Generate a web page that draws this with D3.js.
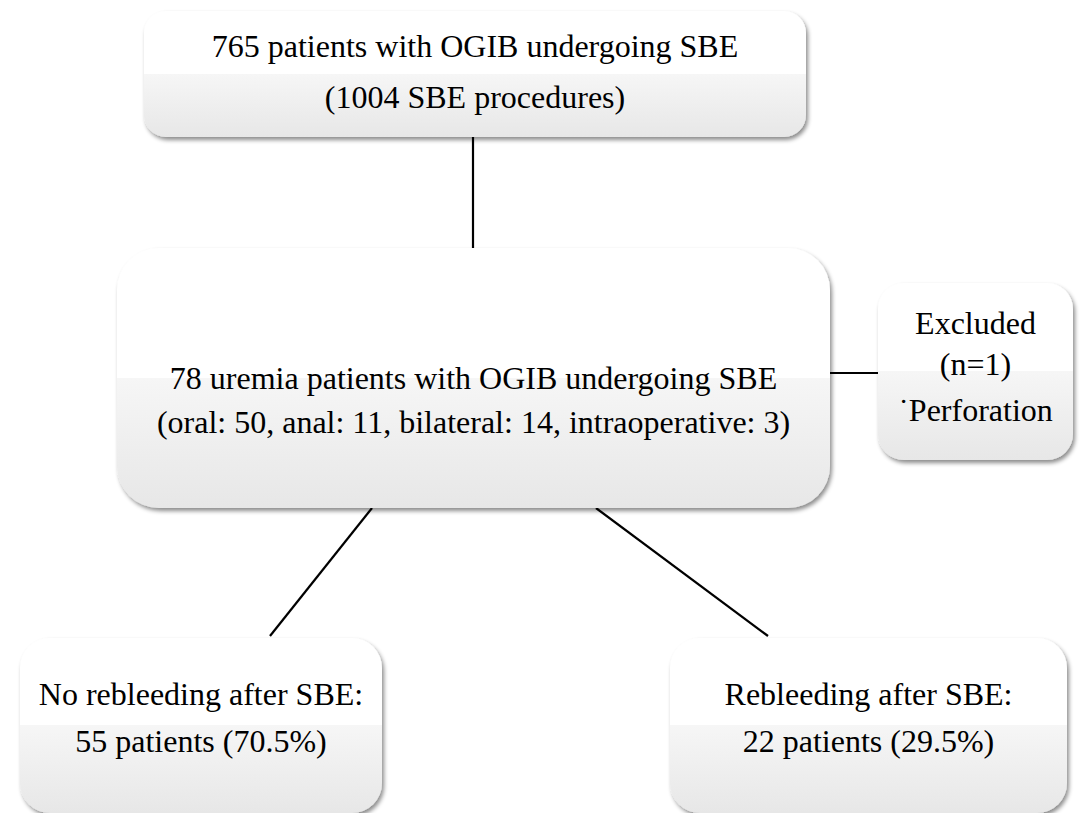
<!DOCTYPE html>
<html><head><meta charset="utf-8">
<script src="https://cdn.jsdelivr.net/npm/d3@7"></script>
<style>html,body{margin:0;padding:0;background:#fff;}svg{display:block;}</style>
</head><body>
<svg id="c" width="1084" height="813"></svg>
<script>
// Node labels (text content)
const nodeIds = ["all", "uremia", "excluded", "noRebleed", "rebleed"];
const nodeLines = [
  ["765 patients with OGIB undergoing SBE", "(1004 SBE procedures)"],
  ["78 uremia patients with OGIB undergoing SBE", "(oral: 50, anal: 11, bilateral: 14, intraoperative: 3)"],
  ["Excluded", "(n=1)", "˙Perforation"],
  ["No rebleeding after SBE:", "55 patients (70.5%)"],
  ["Rebleeding after SBE:", "22 patients (29.5%)"]
];
const links = [["all","uremia"],["uremia","excluded"],["uremia","noRebleed"],["uremia","rebleed"]];

// Layout (pixels)
const layout = {
  all:       {x0:144, y0:11,  x1:806, y1:137, r:22, base:[57,108]},
  uremia:    {x0:117, y0:248, x1:830, y1:508, r:42, base:[389,433]},
  excluded:  {x0:878, y0:283, x1:1073,y1:460, r:26, base:[334,375,421]},
  noRebleed: {x0:20,  y0:638, x1:382, y1:813, r:30, base:[705,752]},
  rebleed:   {x0:670, y0:638, x1:1067,y1:813, r:30, base:[705,752]}
};
const linkPts = [
  [[473,137],[473,248]],
  [[830,373],[878,373]],
  [[372,508],[270,636]],
  [[596,508],[768,636]]
];

const svg = d3.select("#c");
const defs = svg.append("defs");
const g = defs.append("linearGradient").attr("id","gloss").attr("x1",0).attr("y1",0).attr("x2",0).attr("y2",1);
[[0,"#ffffff"],[0.5,"#ffffff"],[0.5,"#f6f6f6"],[1,"#e7e7e7"]].forEach(([o,c])=>g.append("stop").attr("offset",o).attr("stop-color",c));
const f = defs.append("filter").attr("id","sh").attr("x","-10%").attr("y","-10%").attr("width","120%").attr("height","130%");
f.append("feDropShadow").attr("dx",2).attr("dy",3).attr("stdDeviation",2.2).attr("flood-color","#000").attr("flood-opacity",0.45);

const line = d3.line();
svg.selectAll("path.link").data(linkPts).join("path").attr("class","link")
  .attr("d", d=>line(d)).attr("stroke","#000").attr("stroke-width",2.2).attr("fill","none");

const nodes = nodeIds.map((id,i)=>({id, lines:nodeLines[i], ...layout[id]}));
const ng = svg.selectAll("g.node").data(nodes).join("g").attr("class","node");
ng.append("rect")
  .attr("x",d=>d.x0).attr("y",d=>d.y0).attr("width",d=>d.x1-d.x0).attr("height",d=>d.y1-d.y0)
  .attr("rx",d=>d.r).attr("ry",d=>d.r).attr("fill","url(#gloss)").attr("filter","url(#sh)");
ng.each(function(d){
  const cx=(d.x0+d.x1)/2;
  d3.select(this).selectAll("text").data(d.lines.map((t,i)=>({t,y:d.base[i]}))).join("text")
    .attr("x",cx).attr("y",e=>e.y).attr("text-anchor","middle")
    .style("font-family","\"Liberation Serif\"").style("font-size","32px").attr("fill","#000")
    .text(e=>e.t);
});
</script>
</body></html>
